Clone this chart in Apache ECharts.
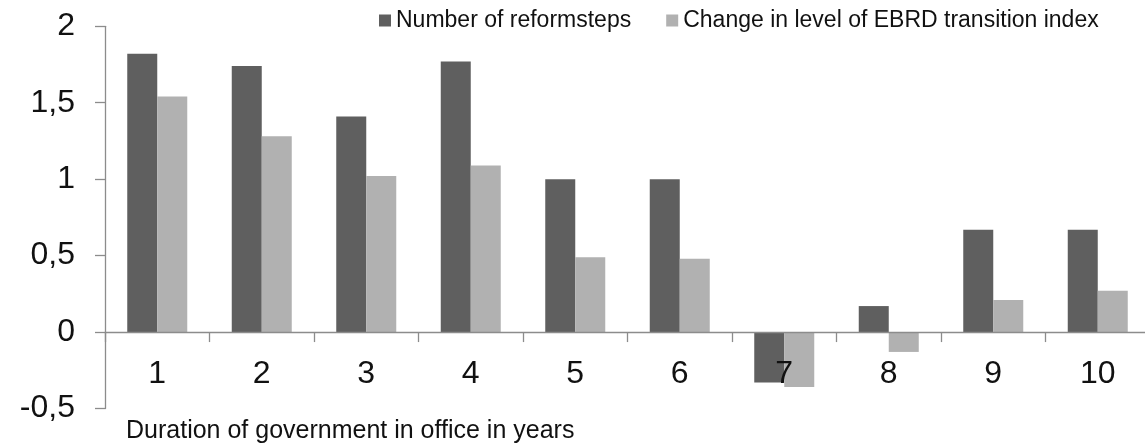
<!DOCTYPE html>
<html>
<head>
<meta charset="utf-8">
<script src="https://cdn.jsdelivr.net/npm/echarts@6/dist/echarts.min.js"></script>
<style>
html,body{margin:0;padding:0;background:#fff;}
#chart{width:1145px;height:448px;}
</style>
</head>
<body>
<div id="chart"></div>
<script>
const categories = ['1','2','3','4','5','6','7','8','9','10'];
const reformSteps = [1.82, 1.74, 1.41, 1.77, 1.0, 1.0, -0.33, 0.17, 0.67, 0.67];
const ebrdChange = [1.54, 1.28, 1.02, 1.09, 0.49, 0.48, -0.36, -0.13, 0.21, 0.27];
const seriesNames = ['Number of reformsteps', 'Change in level of EBRD transition index'];
const xAxisTitle = 'Duration of government in office in years';

const FONT = '"Liberation Sans", Arial, sans-serif';
const Y_MIN = -0.5, Y_MAX = 2;
const GRID_TOP = 26.3, GRID_BOTTOM = 39.5, H = 448;
// place the category axis at value 0 via offset from the grid bottom
const plotH = H - GRID_TOP - GRID_BOTTOM;
const zeroOffset = -plotH * (0 - Y_MIN) / (Y_MAX - Y_MIN);

const chart = echarts.init(document.getElementById('chart'), null, {renderer: 'canvas'});
chart.setOption({
  animation: false,
  backgroundColor: '#ffffff',
  title: {
    text: xAxisTitle,
    left: 126,
    top: 419,
    padding: 0,
    textStyle: {fontFamily: FONT, fontSize: 25, fontWeight: 'normal', color: '#111'}
  },
  legend: {
    left: 379,
    top: 9,
    padding: 0,
    itemWidth: 12,
    itemHeight: 12,
    itemGap: 35,
    icon: 'rect',
    textStyle: {fontFamily: FONT, fontSize: 23, color: '#111'},
    data: seriesNames
  },
  grid: {left: 105, right: -5, top: GRID_TOP, bottom: GRID_BOTTOM, containLabel: false, outerBoundsMode: 'none'},
  xAxis: {
    type: 'category',
    data: categories,
    position: 'bottom',
    offset: zeroOffset,
    z: 10,
    axisLine: {onZero: false, lineStyle: {color: '#8c8c8c', width: 1.3}},
    axisTick: {show: true, length: 10, lineStyle: {color: '#8c8c8c', width: 1.3}},
    axisLabel: {fontFamily: FONT, fontSize: 32, color: '#111', margin: 26},
    splitLine: {show: false}
  },
  yAxis: {
    type: 'value',
    min: Y_MIN,
    max: Y_MAX,
    interval: 0.5,
    axisLine: {show: true, lineStyle: {color: '#8c8c8c', width: 1.3}},
    axisTick: {show: true, length: 10, lineStyle: {color: '#8c8c8c', width: 1.3}},
    axisLabel: {
      fontFamily: FONT, fontSize: 32, color: '#111', margin: 30,
      formatter: v => String(v).replace('.', ',')
    },
    splitLine: {show: false}
  },
  series: [
    {name: seriesNames[0], type: 'bar', data: reformSteps, barWidth: 30, barGap: '0%',
     itemStyle: {color: '#5f5f5f'}},
    {name: seriesNames[1], type: 'bar', data: ebrdChange, barWidth: 30, barGap: '0%',
     itemStyle: {color: '#b1b1b1'}}
  ]
});
</script>
</body>
</html>
